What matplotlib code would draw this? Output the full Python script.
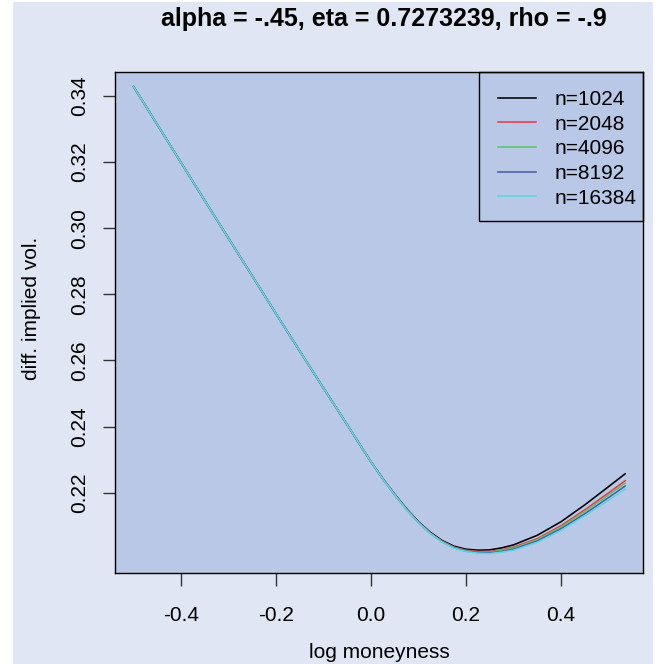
import matplotlib
matplotlib.use('Agg')
import matplotlib.pyplot as plt
from matplotlib.patches import Rectangle

# log moneyness grid
x = [-0.5, -0.45, -0.4, -0.35, -0.3, -0.25, -0.2, -0.15, -0.1, -0.05,
     0.0, 0.025, 0.05, 0.075, 0.1, 0.125, 0.15, 0.175, 0.2, 0.225, 0.25, 0.275,
     0.3, 0.35, 0.4, 0.45, 0.5, 0.535]

left = [0.3428, 0.3313, 0.3198, 0.3083, 0.2969, 0.2855, 0.2741, 0.2628, 0.2516, 0.2405, 0.2293]

iv_1024 = left + [0.2242, 0.2195, 0.2151, 0.2112, 0.2080, 0.2055, 0.2038, 0.2029, 0.2026, 0.2027,
                  0.2033, 0.2042, 0.2071, 0.2112, 0.2163, 0.2218, 0.2257]
iv_2048 = left + [0.2242, 0.2194, 0.2150, 0.2111, 0.2078, 0.2053, 0.2035, 0.2026, 0.2022, 0.2022,
                  0.2027, 0.2035, 0.2061, 0.2100, 0.2148, 0.2199, 0.2236]
iv_4096 = left + [0.2241, 0.2194, 0.2149, 0.2110, 0.2077, 0.2052, 0.2034, 0.2024, 0.2020, 0.2020,
                  0.2025, 0.2032, 0.2058, 0.2096, 0.2143, 0.2193, 0.2229]
iv_8192 = left + [0.2241, 0.2193, 0.2149, 0.2109, 0.2077, 0.2051, 0.2033, 0.2023, 0.2019, 0.2018,
                  0.2022, 0.2029, 0.2054, 0.2091, 0.2136, 0.2185, 0.2220]
iv_16384 = left + [0.2241, 0.2193, 0.2148, 0.2109, 0.2076, 0.2050, 0.2032, 0.2022, 0.2017, 0.2016,
                   0.2020, 0.2026, 0.2050, 0.2086, 0.2130, 0.2177, 0.2211]

series = [iv_1024, iv_2048, iv_4096, iv_8192, iv_16384]
labels = ['n=1024', 'n=2048', 'n=4096', 'n=8192', 'n=16384']
colors = ['black', '#EE3A45', '#5CC46A', '#4A5DAA', '#5CD6E0']

xticks = [-0.4, -0.2, 0.0, 0.2, 0.4]
yticks = [0.22, 0.24, 0.26, 0.28, 0.30, 0.32, 0.34]

plt.rcParams['font.family'] = ['Liberation Sans', 'DejaVu Sans']

fig = plt.figure(figsize=(6.65, 6.64), dpi=100)
fig.patch.set_facecolor('white')
fig.patches.append(Rectangle((13 / 665, 0), 640 / 665, 662 / 664, transform=fig.transFigure,
                             facecolor='#E0E6F3', edgecolor='none', zorder=-5))

ax = fig.add_axes([115 / 665, 1 - 573 / 664, 528 / 665, 501 / 664])
ax.set_zorder(2)
ax.set_facecolor('#B8C8E6')

for y, lab, c in zip(series, labels, colors):
    ax.plot(x, y, color=c, lw=1.15, label=lab)

ax.set_xlim(-0.539, 0.5726)
ax.set_ylim(0.1957, 0.3472)
ax.set_xticks(xticks)
ax.set_xticklabels(['-0.4', '-0.2', '0.0', '0.2', '0.4'])
ax.set_yticks(yticks)
ax.set_yticklabels(['%.2f' % v for v in yticks], rotation=90, va='center')
ax.tick_params(axis='both', labelsize=15, length=9, width=1, color='#333333')
ax.tick_params(axis='x', pad=14.5)
ax.tick_params(axis='y', pad=9.5)
for s in ax.spines.values():
    s.set_linewidth(1)
    s.set_color('black')

ax.set_xlabel('log moneyness', fontsize=15, labelpad=13)
ax.set_ylabel('diff. implied vol.', fontsize=15)
ax.yaxis.set_label_coords(-0.14, 0.529)

fig.text(384 / 665, 1 - 19 / 664, 'alpha = -.45, eta = 0.7273239, rho = -.9',
         ha='center', va='center', fontsize=18, fontweight='bold', zorder=3)

# legend box like R's, frame drawn separately
ax.add_patch(Rectangle((0.6894, 0.7026), 0.3106, 0.2974, transform=ax.transAxes,
                       facecolor='none', edgecolor='black', lw=1, zorder=4, clip_on=False))
leg = ax.legend(loc='upper left', bbox_to_anchor=(0.7254, 0.964), borderaxespad=0,
                borderpad=0, fontsize=15, frameon=False, handlelength=1.83,
                handletextpad=0.87, labelspacing=0.27)

plt.savefig('out.png', dpi=100)
